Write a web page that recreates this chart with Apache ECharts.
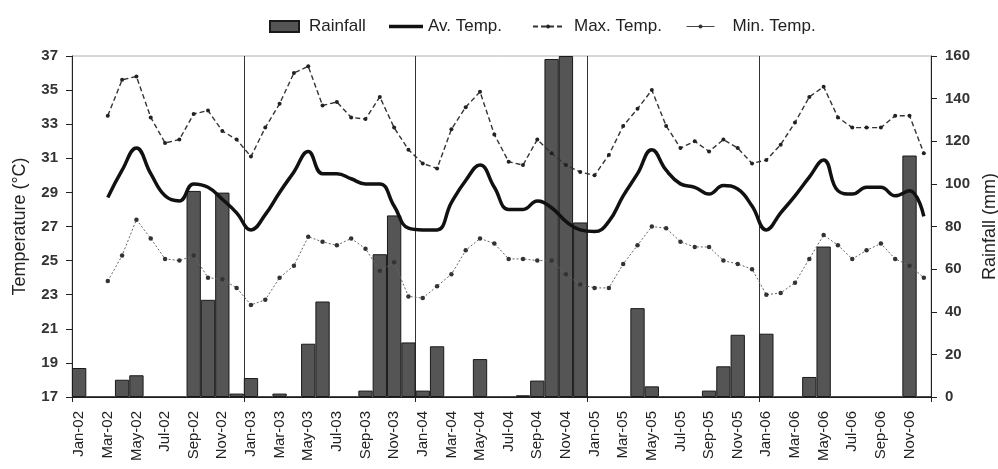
<!DOCTYPE html>
<html>
<head>
<meta charset="utf-8">
<script src="https://cdn.jsdelivr.net/npm/echarts@6/dist/echarts.min.js"></script>
<style>
  html, body { margin: 0; padding: 0; background: #ffffff; }
  #chart { width: 998px; height: 469px; }
</style>
</head>
<body>
<div id="chart"></div>
<script>
// Monthly categories, Jan 2002 to Dec 2006
const months = [
  'Jan-02','Feb-02','Mar-02','Apr-02','May-02','Jun-02','Jul-02','Aug-02','Sep-02','Oct-02','Nov-02','Dec-02',
  'Jan-03','Feb-03','Mar-03','Apr-03','May-03','Jun-03','Jul-03','Aug-03','Sep-03','Oct-03','Nov-03','Dec-03',
  'Jan-04','Feb-04','Mar-04','Apr-04','May-04','Jun-04','Jul-04','Aug-04','Sep-04','Oct-04','Nov-04','Dec-04',
  'Jan-05','Feb-05','Mar-05','Apr-05','May-05','Jun-05','Jul-05','Aug-05','Sep-05','Oct-05','Nov-05','Dec-05',
  'Jan-06','Feb-06','Mar-06','Apr-06','May-06','Jun-06','Jul-06','Aug-06','Sep-06','Oct-06','Nov-06','Dec-06'
];

// Monthly rainfall (mm)
const rainfall = [
  13.6, 0, 0, 8.1, 10.2, 0, 0, 0, 96.7, 45.6, 95.9, 1.6,
  8.9, 0, 1.6, 0, 25.0, 44.8, 0, 0, 3.0, 67.0, 85.2, 25.6,
  3.0, 23.8, 0, 0, 17.8, 0, 0, 0.8, 7.7, 158.6, 160, 81.9,
  0, 0, 0, 41.7, 5.0, 0, 0, 0, 3.0, 14.4, 29.2, 0,
  29.7, 0, 0, 9.4, 70.6, 0, 0, 0, 0, 0, 113.3, 0
];

// Average monthly temperature (°C)
const avTemp = [
  null, null, 28.7, 30.3, 31.6, 30.1, 28.8, 28.5, 29.5, 29.3, 28.6, 27.8,
  26.8, 27.7, 29.0, 30.2, 31.4, 30.1, 30.1, 29.8, 29.5, 29.5, 28.2, 26.9,
  26.8, 26.8, 28.4, 29.7, 30.6, 29.3, 28.0, 28.0, 28.5, 28.1, 27.3, 26.8,
  26.7, 27.3, 28.8, 30.1, 31.5, 30.3, 29.5, 29.3, 28.9, 29.4, 29.2, 28.2,
  26.8, 27.8, 28.8, 29.9, 30.9, 29.1, 28.9, 29.3, 29.3, 28.8, 29.1, 27.6
];

// Mean monthly maximum temperature (°C)
const maxTemp = [
  null, null, 33.5, 35.6, 35.8, 33.4, 31.9, 32.1, 33.6, 33.8, 32.6, 32.1,
  31.1, 32.8, 34.2, 36.0, 36.4, 34.1, 34.3, 33.4, 33.3, 34.6, 32.8, 31.5,
  30.7, 30.4, 32.7, 34.0, 34.9, 32.4, 30.8, 30.6, 32.1, 31.3, 30.6, 30.2,
  30.0, 31.2, 32.9, 33.9, 35.0, 32.9, 31.6, 32.0, 31.4, 32.1, 31.6, 30.7,
  30.9, 31.8, 33.1, 34.6, 35.2, 33.4, 32.8, 32.8, 32.8, 33.5, 33.5, 31.3
];

// Mean monthly minimum temperature (°C)
const minTemp = [
  null, null, 23.8, 25.3, 27.4, 26.3, 25.1, 25.0, 25.3, 24.0, 23.9, 23.4,
  22.4, 22.7, 24.0, 24.7, 26.4, 26.1, 25.9, 26.3, 25.7, 24.4, 24.9, 22.9,
  22.8, 23.5, 24.2, 25.6, 26.3, 26.0, 25.1, 25.1, 25.0, 25.0, 24.2, 23.6,
  23.4, 23.4, 24.8, 25.9, 27.0, 26.9, 26.1, 25.8, 25.8, 25.0, 24.8, 24.5,
  23.0, 23.1, 23.7, 25.1, 26.5, 25.9, 25.1, 25.6, 26.0, 25.1, 24.7, 24.0
];

// Axis ranges
const tempAxis = { min: 17, max: 37, step: 2 };
const rainAxis = { min: 0, max: 160, step: 20 };

const font = "'Liberation Sans', Arial, sans-serif";
const ink = '#222222';

const legendText = { fontFamily: font, fontSize: 17, color: ink };

// One legend block per entry so each can sit at its own offset
function legendBlock(name, left, opts) {
  return Object.assign({
    data: [name],
    top: 13,
    left: left,
    itemWidth: 32,
    itemHeight: 5,
    selectedMode: false,
    textStyle: legendText
  }, opts || {});
}

const chart = echarts.init(document.getElementById('chart'), null, { renderer: 'canvas' });

chart.setOption({
  animation: false,
  backgroundColor: '#ffffff',
  textStyle: { fontFamily: font },
  legend: [
    legendBlock('Rainfall', 264, {
      data: [{ name: 'Rainfall', icon: 'rect' }],
      itemWidth: 29, itemHeight: 11,
      textStyle: Object.assign({ padding: [0, 0, 0, 5] }, legendText)
    }),
    legendBlock('Av. Temp.', 384, {
      data: [{ name: 'Av. Temp.', icon: 'path://M0,0L34,0L34,3.4L0,3.4Z' }],
      itemWidth: 34, itemHeight: 5,
      itemStyle: { color: '#111111' }
    }),
    legendBlock('Max. Temp.', 527, {
      itemWidth: 30,
      textStyle: Object.assign({ padding: [0, 0, 0, 6] }, legendText)
    }),
    legendBlock('Min. Temp.', 681, {
      itemWidth: 28,
      lineStyle: { type: 'solid', color: '#444444', width: 1 },
      textStyle: Object.assign({ padding: [0, 0, 0, 13] }, legendText)
    })
  ],
  grid: {
    left: 72, right: 67, top: 56, bottom: 72,
    outerBoundsMode: 'none',
    containLabel: false,
    show: true, borderColor: '#b0b0b0', borderWidth: 1
  },
  xAxis: {
    type: 'category',
    data: months,
    boundaryGap: true,
    axisLine: { lineStyle: { color: ink, width: 1 } },
    axisTick: {
      show: true, length: 5,
      interval: (i) => i % 12 === 0,
      lineStyle: { color: ink }
    },
    splitLine: {
      show: true,
      interval: (i) => i > 0 && i % 12 === 0,
      lineStyle: { color: '#333333', width: 1 }
    },
    axisLabel: {
      interval: 1,
      rotate: 90,
      fontFamily: font,
      fontSize: 15,
      color: ink,
      margin: 14
    }
  },
  yAxis: [
    {
      type: 'value',
      name: 'Temperature (°C)',
      nameLocation: 'middle',
      nameRotate: 90,
      nameGap: 43,
      nameTextStyle: { fontFamily: font, fontSize: 18, color: ink },
      min: tempAxis.min, max: tempAxis.max, interval: tempAxis.step,
      axisLine: { show: true, lineStyle: { color: ink } },
      axisTick: { show: true, length: 6, lineStyle: { color: ink } },
      splitLine: { show: false },
      axisLabel: { fontFamily: font, fontSize: 15, fontWeight: 'bold', color: '#333333', margin: 14 }
    },
    {
      type: 'value',
      name: 'Rainfall (mm)',
      nameLocation: 'middle',
      nameRotate: 90,
      nameGap: 44,
      nameTextStyle: { fontFamily: font, fontSize: 18, color: ink },
      position: 'right',
      min: rainAxis.min, max: rainAxis.max, interval: rainAxis.step,
      axisLine: { show: true, lineStyle: { color: ink } },
      axisTick: { show: true, length: 6, lineStyle: { color: ink } },
      splitLine: { show: false },
      axisLabel: { fontFamily: font, fontSize: 15, fontWeight: 'bold', color: '#333333', margin: 14 }
    }
  ],
  series: [
    {
      name: 'Rainfall',
      type: 'bar',
      yAxisIndex: 1,
      data: rainfall,
      barCategoryGap: '0%',
      barGap: '0%',
      itemStyle: { color: '#555555', borderColor: '#1a1a1a', borderWidth: 1 },
      z: 1
    },
    {
      name: 'Av. Temp.',
      type: 'line',
      yAxisIndex: 0,
      data: avTemp,
      smooth: 0.45,
      symbol: 'none',
      lineStyle: { color: '#111111', width: 3.5 },
      itemStyle: { color: '#111111' },
      z: 4
    },
    {
      name: 'Max. Temp.',
      type: 'line',
      yAxisIndex: 0,
      data: maxTemp,
      symbol: 'circle',
      symbolSize: 4,
      lineStyle: { color: '#333333', width: 1.4, type: [5, 3] },
      itemStyle: { color: '#222222' },
      z: 3
    },
    {
      name: 'Min. Temp.',
      type: 'line',
      yAxisIndex: 0,
      data: minTemp,
      symbol: 'circle',
      symbolSize: 4.5,
      lineStyle: { color: '#666666', width: 1, type: [2, 2] },
      itemStyle: { color: '#333333' },
      z: 3
    }
  ]
});
</script>
</body>
</html>
